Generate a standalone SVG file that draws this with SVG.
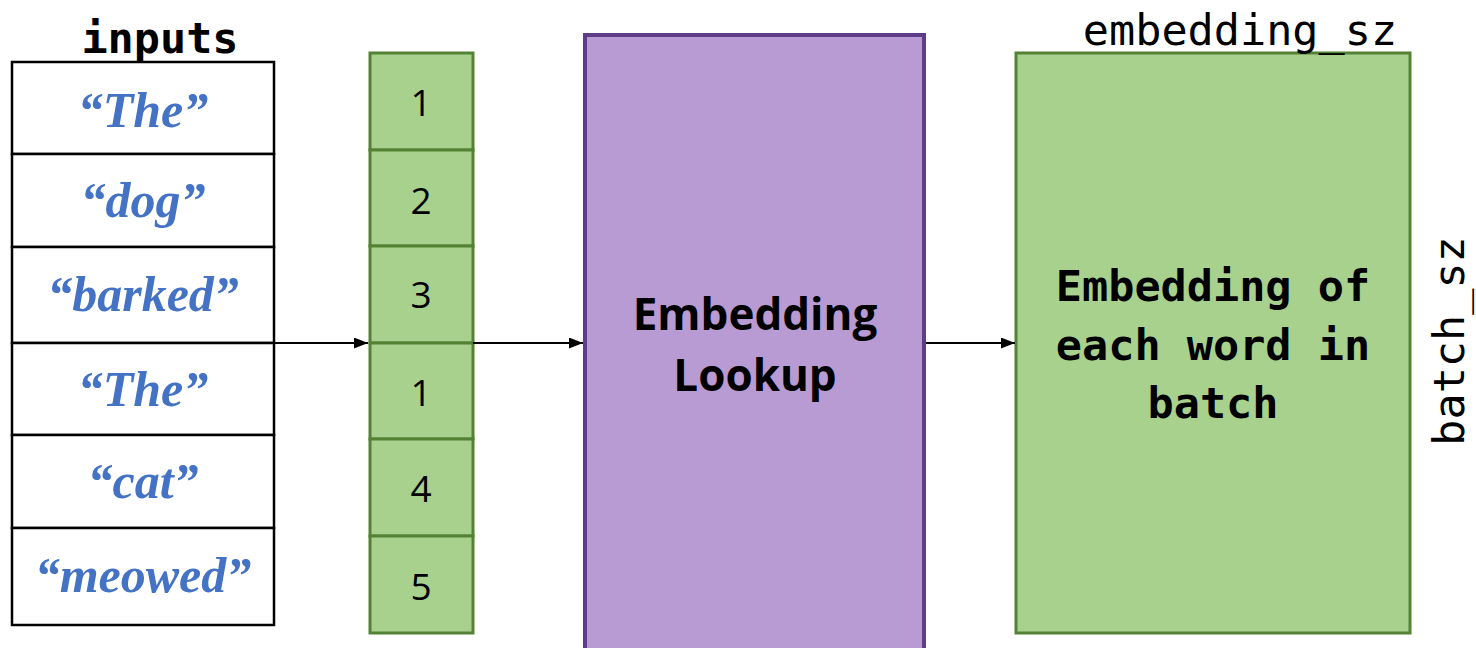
<svg xmlns="http://www.w3.org/2000/svg" width="1476" height="648" viewBox="0 0 1476 648">
  <style>
    .word { fill: #4472C4; font-family: "Liberation Serif", "DejaVu Serif", serif; font-style: italic; font-weight: bold; font-size: 50px; text-anchor: middle; }
    .cell { fill: #FFFFFF; stroke: #000000; stroke-width: 2.5; }
    .idx { fill: #A9D18E; stroke: #548235; stroke-width: 3; }
    .num { fill: #000000; font-family: "Open Sans", "Liberation Sans", sans-serif; font-size: 37px; text-anchor: middle; }
    .mono { fill: #000000; font-family: "DejaVu Sans Mono", "Liberation Mono", monospace; font-size: 43.5px; }
    .label { fill: #000000; font-family: "Open Sans", "Liberation Sans", sans-serif; font-weight: bold; font-size: 44px; text-anchor: middle; }
    .edge { stroke: #000000; stroke-width: 2; fill: none; marker-end: url(#arrow); }
  </style>
  <defs>
    <marker id="arrow" viewBox="0 0 10 10" refX="10" refY="5" markerWidth="14" markerHeight="11" markerUnits="userSpaceOnUse" orient="auto" preserveAspectRatio="none">
      <path d="M0,0 L10,5 L0,10 z" fill="#000000"/>
    </marker>
  </defs>

  <!-- input words -->
  <g id="inputs">
    <text class="mono" x="160" y="53" font-weight="bold" text-anchor="middle">inputs</text>
    <rect class="cell" x="12" y="62" width="262" height="92"/>
    <rect class="cell" x="12" y="154" width="262" height="93"/>
    <rect class="cell" x="12" y="247" width="262" height="96"/>
    <rect class="cell" x="12" y="343" width="262" height="92"/>
    <rect class="cell" x="12" y="435" width="262" height="93"/>
    <rect class="cell" x="12" y="528" width="262" height="97"/>
    <text class="word" x="143" y="127">“The”</text>
    <text class="word" x="143" y="217">“dog”</text>
    <text class="word" x="143" y="311">“barked”</text>
    <text class="word" x="143" y="406">“The”</text>
    <text class="word" x="143" y="498">“cat”</text>
    <text class="word" x="143" y="592">“meowed”</text>
  </g>

  <!-- word indices -->
  <g id="indices">
    <rect class="idx" x="370" y="53" width="103" height="97"/>
    <rect class="idx" x="370" y="150" width="103" height="96"/>
    <rect class="idx" x="370" y="246" width="103" height="97"/>
    <rect class="idx" x="370" y="343" width="103" height="96"/>
    <rect class="idx" x="370" y="439" width="103" height="97"/>
    <rect class="idx" x="370" y="536" width="103" height="97"/>
    <text class="num" x="421" y="116">1</text>
    <text class="num" x="421" y="214">2</text>
    <text class="num" x="421" y="308">3</text>
    <text class="num" x="421" y="406">1</text>
    <text class="num" x="421" y="502">4</text>
    <text class="num" x="421" y="600">5</text>
  </g>

  <!-- lookup step -->
  <g id="lookup">
    <rect x="585" y="35" width="339" height="625" fill="#B99BD4" stroke="#5F3C87" stroke-width="4"/>
    <text class="label" x="755" y="330">Embedding</text>
    <text class="label" x="755" y="391">Lookup</text>
  </g>

  <!-- output embeddings -->
  <g id="embeddings">
    <rect class="idx" x="1016" y="53" width="394" height="580"/>
    <text class="mono" x="1240" y="45" text-anchor="middle">embedding_sz</text>
    <text class="mono" x="1213" y="301" font-weight="bold" text-anchor="middle">Embedding of</text>
    <text class="mono" x="1213" y="360" font-weight="bold" text-anchor="middle">each word in</text>
    <text class="mono" x="1213" y="418" font-weight="bold" text-anchor="middle">batch</text>
    <text class="mono" transform="translate(1464,341) rotate(-90)" text-anchor="middle">batch_sz</text>
  </g>

  <!-- connectors -->
  <g id="connectors">
    <path class="edge" d="M274,343 H368"/>
    <path class="edge" d="M473,343 H583"/>
    <path class="edge" d="M926,343 H1015"/>
  </g>
</svg>
